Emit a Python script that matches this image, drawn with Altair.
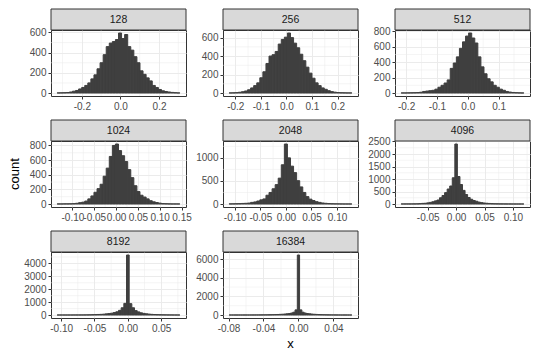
import altair as alt
import pandas as pd

FONT = "Liberation Sans"

labels = ["128", "256", "512", "1024", "2048", "4096", "8192", "16384"]

# histogram: first bin edge, bin width, counts per bin
bin_start = [-0.328, -0.224, -0.216, -0.135, -0.111, -0.09675, -0.106, -0.0793]
bin_width = [0.0159, 0.012, 0.00995, 0.00703, 0.006, 0.0045, 0.004, 0.0026]

counts_128 = [1, 2, 3, 5, 10, 18, 25, 40, 55, 75,
              100, 140, 180, 240, 300, 380, 460, 495, 510, 530,
              595, 540, 580, 460, 425, 360, 300, 220, 185, 150,
              120, 75, 55, 35, 22, 15, 10, 6, 3, 1]
counts_256 = [1, 2, 4, 8, 14, 22, 35, 55, 80, 110,
              165, 230, 320, 400, 415, 450, 530, 580, 605, 650,
              600, 540, 490, 420, 350, 280, 215, 160, 110, 80,
              55, 40, 25, 15, 9, 5, 3, 2, 1, 1]
counts_512 = [1, 1, 2, 3, 4, 6, 10, 20, 25, 30,
              35, 50, 75, 100, 130, 170, 320, 390, 470, 580,
              665, 740, 780, 715, 650, 470, 340, 250, 185, 145,
              100, 75, 50, 35, 20, 12, 7, 4, 2, 1]
counts_1024 = [1, 1, 2, 2, 3, 5, 10, 18, 25, 40,
               70, 110, 160, 210, 270, 380, 490, 650, 800, 820,
               730, 660, 580, 470, 360, 250, 170, 120, 95, 70,
               45, 30, 20, 12, 6, 4, 2, 1, 1, 1]
counts_2048 = [3, 4, 6, 8, 12, 15, 20, 35, 45, 65,
               90, 110, 190, 250, 330, 420, 560, 850, 1300, 1000,
               820, 680, 505, 370, 250, 160, 105, 75, 50, 35,
               22, 15, 10, 6, 4, 3, 2, 1, 1, 1]
counts_4096 = [2, 2, 3, 3, 4, 5, 8, 15, 25, 30,
               45, 65, 90, 125, 160, 250, 340, 455, 600, 720,
               1050, 2400, 1100, 780, 545, 380, 260, 190, 140, 110,
               75, 55, 40, 30, 22, 15, 10, 7, 5, 4,
               3, 2, 2, 1, 1, 1, 1, 1]
counts_8192 = [1, 1, 1, 1, 2, 2, 3, 3, 4, 5,
               7, 10, 15, 22, 30, 40, 50, 65, 90, 110,
               140, 190, 250, 360, 560, 900, 4650, 880, 560, 340,
               240, 170, 125, 95, 70, 50, 38, 28, 20, 14,
               10, 7, 5, 3, 2, 1]
counts_16384 = [1, 1, 1, 1, 2, 2, 2, 3, 3, 4,
                5, 6, 8, 10, 12, 15, 18, 22, 28, 35,
                45, 55, 70, 85, 105, 130, 160, 210, 300, 550,
                6450, 550, 300, 210, 160, 130, 100, 80, 62, 48,
                37, 28, 21, 16, 12, 9, 7, 5, 4, 3,
                2, 2, 1, 1]
counts = [counts_128, counts_256, counts_512, counts_1024,
          counts_2048, counts_4096, counts_8192, counts_16384]

x_ticks = [[-0.2, 0.0, 0.2],
           [-0.2, -0.1, 0.0, 0.1, 0.2],
           [-0.2, -0.1, 0.0, 0.1],
           [-0.10, -0.05, 0.0, 0.05, 0.10, 0.15],
           [-0.10, -0.05, 0.0, 0.05, 0.10],
           [-0.05, 0.0, 0.05, 0.10],
           [-0.10, -0.05, 0.0, 0.05],
           [-0.08, -0.04, 0.0, 0.04]]
x_fmt = [".1f", ".1f", ".1f", ".2f", ".2f", ".2f", ".2f", ".2f"]
y_ticks = [[0, 200, 400, 600],
           [0, 200, 400, 600],
           [0, 200, 400, 600, 800],
           [0, 200, 400, 600, 800],
           [0, 500, 1000],
           [0, 500, 1000, 1500, 2000, 2500],
           [0, 1000, 2000, 3000, 4000],
           [0, 2000, 4000, 6000]]

W, H, STRIP = 135, 66, 21
BAR = "#3f3f3f"
GRID = "#ebebeb"


def minors(ticks, lo, hi):
    step = ticks[1] - ticks[0]
    cand = [t - step / 2 for t in ticks] + [ticks[-1] + step / 2]
    return [c for c in cand if lo < c < hi]


def panel(i):
    start, w, c = bin_start[i], bin_width[i], counts[i]
    n = len(c)
    df = pd.DataFrame({
        "x0": [start + k * w for k in range(n)],
        "x1": [start + (k + 1) * w for k in range(n)],
        "count": c,
    })
    lo, hi = start, start + n * w
    pad = 0.05 * (hi - lo)
    xdom = [lo - pad, hi + pad]
    M = max(c)
    ydom = [-0.05 * M, 1.05 * M]
    xs = alt.Scale(domain=xdom, nice=False, zero=False)
    ys = alt.Scale(domain=ydom, nice=False, zero=False)
    fmt = x_fmt[i]
    xaxis = alt.Axis(
        values=x_ticks[i],
        labelExpr=f"(datum.value < 0 ? '-' : '') + format(abs(datum.value), '{fmt}')",
        title=None, grid=True, labelOverlap=False, labelFlush=False,
    )
    yaxis = alt.Axis(values=y_ticks[i], format="d", title=None, grid=True,
                     labelOverlap=False)

    mx = alt.Chart(pd.DataFrame({"v": minors(x_ticks[i], *xdom)})).mark_rule(
        color=GRID, strokeWidth=0.5
    ).encode(x=alt.X("v:Q", scale=xs, axis=xaxis))
    my = alt.Chart(pd.DataFrame({"v": minors(y_ticks[i], *ydom)})).mark_rule(
        color=GRID, strokeWidth=0.5
    ).encode(y=alt.Y("v:Q", scale=ys, axis=yaxis))
    bars = alt.Chart(df).mark_rect(
        fill=BAR, stroke=BAR, strokeWidth=1, opacity=1
    ).encode(
        x=alt.X("x0:Q", scale=xs, axis=xaxis),
        x2="x1:Q",
        y=alt.Y("count:Q", scale=ys, axis=yaxis),
        y2=alt.datum(0),
    )
    lab = pd.DataFrame({"label": [labels[i]]})
    strip = alt.Chart(lab).mark_rect(
        fill="#d9d9d9", stroke="#333333", strokeWidth=1
    ).encode(x=alt.value(0), x2=alt.value(W), y=alt.value(-STRIP), y2=alt.value(0))
    strip_text = alt.Chart(lab).mark_text(
        font=FONT, fontSize=10.5, color="#1a1a1a", fontWeight="normal"
    ).encode(x=alt.value(W / 2), y=alt.value(-STRIP / 2), text="label:N")
    layers = [mx, my, bars, strip, strip_text]
    if i == 3:
        layers.append(alt.Chart(pd.DataFrame({"t": ["count"]})).mark_text(
            font=FONT, fontSize=13, color="#000000", angle=270, fontWeight="normal"
        ).encode(x=alt.value(-36), y=alt.value(H / 2), text="t:N"))
    if i == 7:
        layers.append(alt.Chart(pd.DataFrame({"t": ["x"]})).mark_text(
            font=FONT, fontSize=13, color="#000000", fontWeight="normal"
        ).encode(x=alt.value(W / 2), y=alt.value(H + 26), text="t:N"))
    return alt.layer(*layers).properties(width=W, height=H)


chart = alt.concat(
    *[panel(i) for i in range(8)],
    columns=3,
    spacing=alt.RowColnumber(row=45, column=37),
    bounds="flush",
).properties(padding=0, background="white").configure_view(
    stroke="#333333", strokeWidth=1
).configure_axis(
    labelFont=FONT, labelFontSize=10, labelColor="#4d4d4d",
    tickColor="#333333", tickSize=3, domain=False,
    gridColor=GRID, gridWidth=1, labelPadding=2,
)

chart.save("out.html", embed_options={"renderer": "svg", "actions": False})
